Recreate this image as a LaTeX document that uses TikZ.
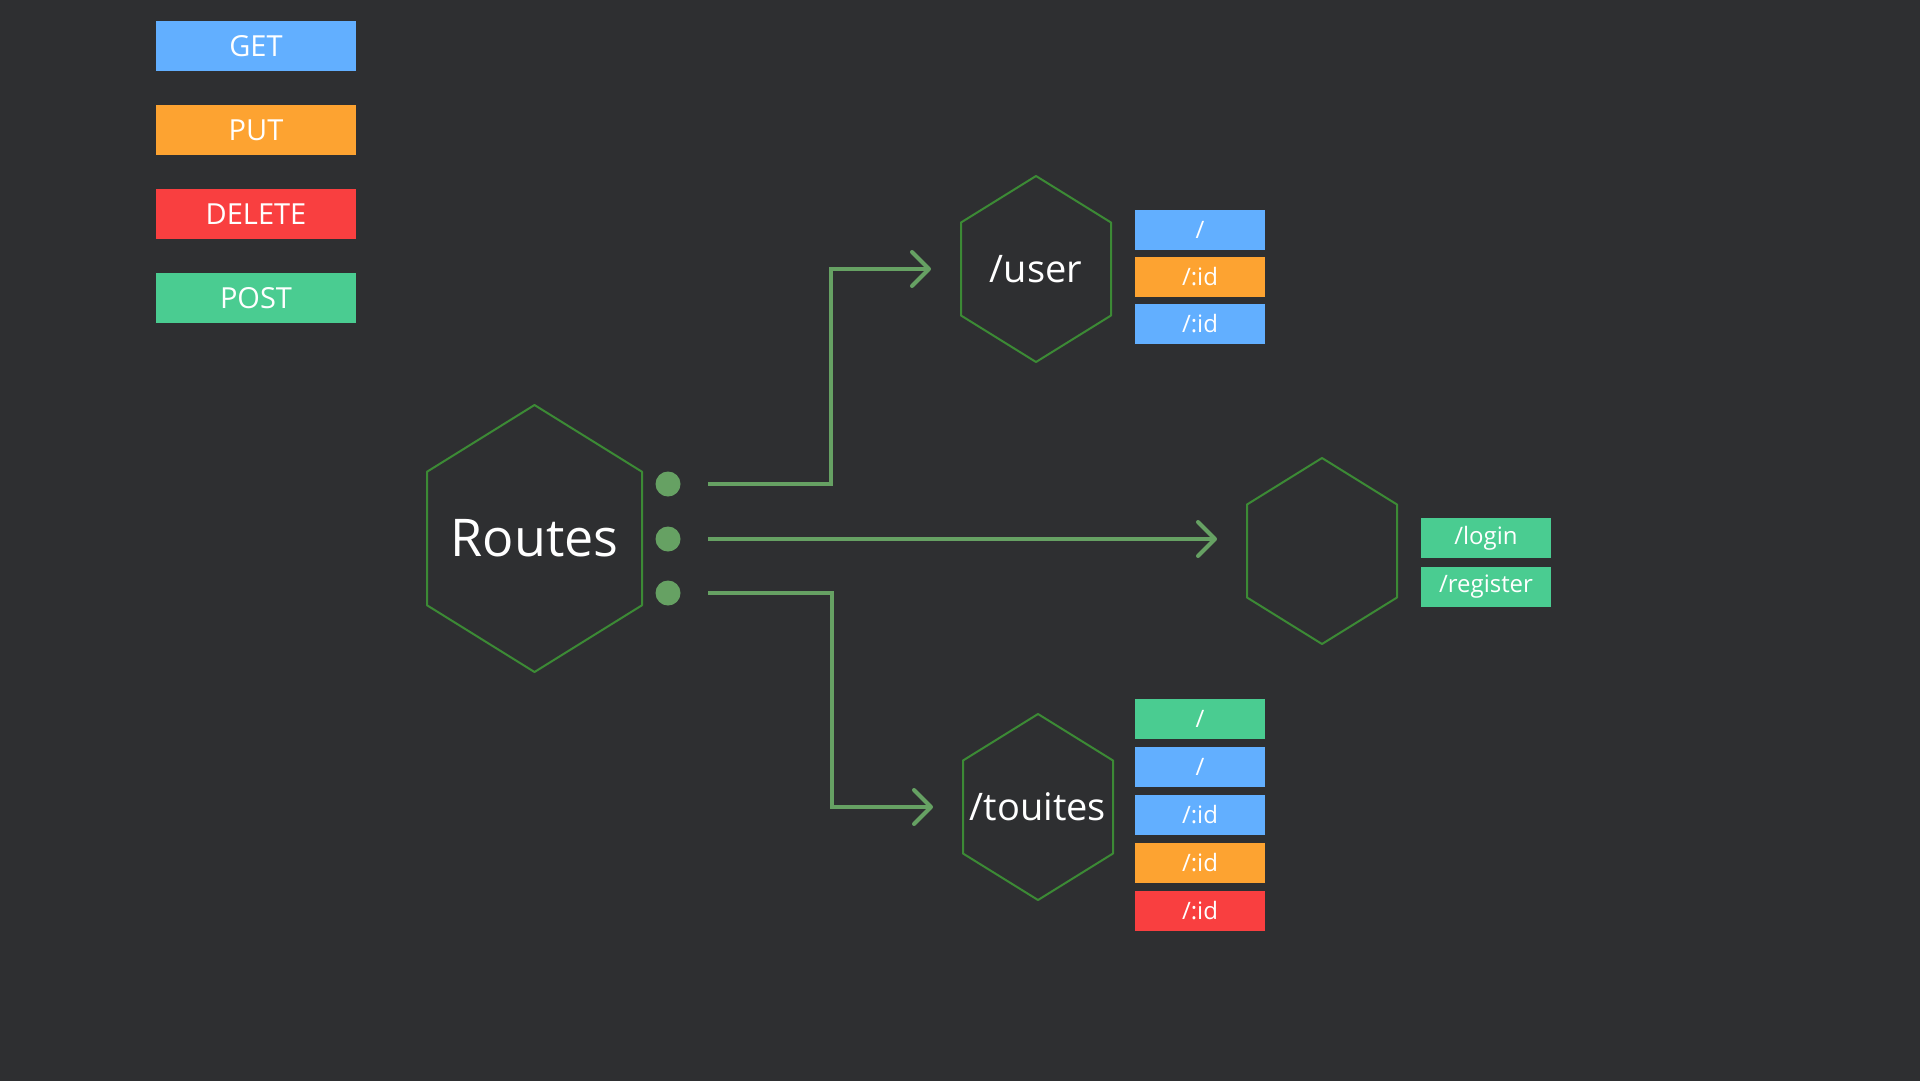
\documentclass[tikz,border=0pt]{standalone}
\usepackage{fontspec}
\setmainfont{Open Sans}
\usepackage{xcolor}
\usepackage{tikz}
\usetikzlibrary{positioning,calc,arrows.meta}

\definecolor{bgdark}{HTML}{2E2F31}
\definecolor{getblue}{HTML}{62AFFF}
\definecolor{putorange}{HTML}{FDA331}
\definecolor{delred}{HTML}{F93F40}
\definecolor{postgreen}{HTML}{4ACC91}
\definecolor{hexgreen}{HTML}{3C8A35}
\definecolor{linkgreen}{HTML}{66A163}

\newcommand\hexaround[1]{%
  \draw[hexline] (#1.north) -- ($(#1.north east)!.5!(#1.east)$) -- ($(#1.south east)!.5!(#1.east)$)
    -- (#1.south) -- ($(#1.south west)!.5!(#1.west)$) -- ($(#1.north west)!.5!(#1.west)$) -- cycle;}

\begin{document}
\begin{tikzpicture}[x=1pt, y=-1pt,
  method/.style={fill=#1, text=white, minimum width=130pt, minimum height=40pt, inner sep=0pt, outer sep=0pt, font=\fontsize{24}{28}\selectfont},
  legend/.style={method=#1, minimum width=200pt, minimum height=50pt, font=\fontsize{29}{34}\selectfont},
  hexnode/.style={text=white, inner sep=0pt, outer sep=0pt, minimum width=150pt, minimum height=186pt, font=\fontsize{38}{44}\selectfont},
  hexline/.style={draw=hexgreen, line width=2pt, line join=round},
  dot/.style={circle, fill=linkgreen, minimum size=25pt, inner sep=0pt},
  link/.style={draw=linkgreen, line width=4pt, -{Straight Barb[length=17pt,width=34pt,round]}}]
 \useasboundingbox (0,0) rectangle (1920,1080);
 \fill[bgdark] (-4,-4) rectangle (1924,1084);

 % legend
 \node[legend=getblue] (get) at (256,46) {GET};
 \node[legend=putorange, below=34pt of get] (put) {PUT};
 \node[legend=delred, below=34pt of put] (delete) {DELETE};
 \node[legend=postgreen, below=34pt of delete] (post) {POST};

 % hexagons
 \node[hexnode, minimum width=215pt, minimum height=267pt, font=\fontsize{52}{60}\selectfont] (routes) at (534.5,538.5) {Routes};
 \node[hexnode] (user) at (1036,269) {/user};
 \node[hexnode] (auth) at (1322,551) {};
 \node[hexnode] (touites) at (1038,807) {/touites};
 \foreach \h in {routes,user,auth,touites}
   \hexaround{\h};

 \node[dot] (dot1) at (668,484) {};
 \node[dot] (dot2) at (668,539) {};
 \node[dot] (dot3) at (668,593) {};

 % routes
 \node[method=getblue] (u1) at (1200,229.5) {/};
 \node[method=putorange, below=7pt of u1] (u2) {/:id};
 \node[method=getblue, below=7pt of u2] (u3) {/:id};

 \node[method=postgreen] (a1) at (1486,538) {/login};
 \node[method=postgreen, below=9pt of a1] (a2) {/register};

 \node[method=postgreen] (t1) at (1200,719) {/};
 \node[method=getblue, below=8pt of t1] (t2) {/};
 \node[method=getblue, below=8pt of t2] (t3) {/:id};
 \node[method=putorange, below=8pt of t3] (t4) {/:id};
 \node[method=delred, below=8pt of t4] (t5) {/:id};

 % links
 \draw[link] ([xshift=27.5pt]dot1.east) -- ++(123,0) |- ([xshift=-30pt]user.west);
 \draw[link] ([xshift=27.5pt]dot2.east) -- ($(auth.west |- dot2)+(-30,0)$);
 \draw[link] ([xshift=27.5pt]dot3.east) -- ++(124,0) |- ([xshift=-30pt]touites.west);
\end{tikzpicture}
\end{document}
